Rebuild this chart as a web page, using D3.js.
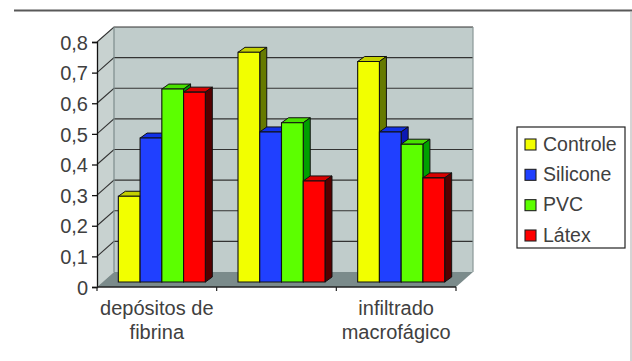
<!DOCTYPE html>
<html>
<head>
<meta charset="utf-8">
<script src="https://cdn.jsdelivr.net/npm/d3@7/dist/d3.min.js"></script>
<style>
html,body{margin:0;padding:0;background:#fff}
svg{display:block}
text{font-family:"Liberation Sans",Arial,sans-serif;fill:#404040}
</style>
</head>
<body>
<svg id="chart" width="632" height="361"></svg>
<script>
const categories = [["depósitos de", "fibrina"], [], ["infiltrado", "macrofágico"]];
const categoryKeys = ["a", "b", "c"];
const seriesNames = ["Controle", "Silicone", "PVC", "Látex"];
const controle = [0.28, 0.75, 0.72];
const silicone = [0.47, 0.49, 0.49];
const pvc = [0.63, 0.52, 0.45];
const latex = [0.62, 0.33, 0.34];
const seriesValues = [controle, silicone, pvc, latex];
const yTicks = [0, 0.1, 0.2, 0.3, 0.4, 0.5, 0.6, 0.7, 0.8];
const frontColors = ["#f2ff00", "#2040ff", "#5cff00", "#ff0000"];
const topColors = ["#c4d000", "#1030e8", "#48e000", "#d80000"];
const sideColors = ["#667a00", "#0c18b4", "#00a000", "#560000"];

const svg = d3.select("#chart");
const left = 97, right = 456, base = 287, top8 = 42;
const wallDx = 17, wallDy = -15;     // depth of the chart box
const barLift = {x: 5, y: -5};       // bars stand slightly behind the front edge
const barDepth = {x: 7, y: -5};

const y = d3.scaleLinear().domain([0, 0.8]).range([base, top8]);
const x0 = d3.scaleBand().domain(categoryKeys).range([left, right])
  .paddingInner(0.273).paddingOuter(0.1365);
const x1 = d3.scaleBand().domain(seriesNames).range([0, x0.bandwidth()]);

const poly = (pts, fill, stroke, sw) => svg.append("polygon")
  .attr("points", pts.map(p => p.join(",")).join(" "))
  .attr("fill", fill).attr("stroke", stroke || "none").attr("stroke-width", sw || 0);

// frame rules along the top and right of the figure
svg.append("line").attr("x1", 14).attr("x2", 632).attr("y1", 10.5).attr("y2", 10.5)
  .attr("stroke", "#595959").attr("stroke-width", 2);
svg.append("line").attr("x1", 631).attr("x2", 631).attr("y1", 11).attr("y2", 361)
  .attr("stroke", "#aaa").attr("stroke-width", 1);

// side wall, back wall and floor of the 3D box
poly([[left, base], [left + wallDx, base + wallDy], [left + wallDx, y(0.8) + wallDy], [left, y(0.8)]], "#c8d2d0");
poly([[left + wallDx, base + wallDy], [right + wallDx, base + wallDy], [right + wallDx, y(0.8) + wallDy], [left + wallDx, y(0.8) + wallDy]], "#c0cccb");
poly([[left, base], [right, base], [right + wallDx, base + wallDy], [left + wallDx, base + wallDy]], "#7b8b8b");

// gridlines wrapping the side and back walls
yTicks.forEach(t => {
  const gy = y(t);
  if (t > 0) {
    svg.append("polyline")
      .attr("points", `${left},${gy} ${left + wallDx},${gy + wallDy} ${right + wallDx},${gy + wallDy}`)
      .attr("fill", "none").attr("stroke", "#333").attr("stroke-width", 1.1);
  }
});
svg.append("line").attr("x1", left + wallDx).attr("x2", left + wallDx)
  .attr("y1", y(0.8) + wallDy).attr("y2", base + wallDy)
  .attr("stroke", "#7c8c8c").attr("stroke-width", 1.2);
svg.append("line").attr("x1", right + wallDx).attr("x2", right + wallDx)
  .attr("y1", y(0.8) + wallDy).attr("y2", base + wallDy)
  .attr("stroke", "#8a9898").attr("stroke-width", 1.2);

// bars: top and side faces first, then the front, series by series
categoryKeys.forEach((key, c) => {
  seriesNames.forEach((name, s) => {
    const v = seriesValues[s][c];
    const xa = x0(key) + x1(name) + barLift.x;
    const xb = xa + x1.bandwidth();
    const yb = base + barLift.y;
    const yt = y(v) + barLift.y;
    const dx = barDepth.x, dy = barDepth.y;
    poly([[xa, yt], [xb, yt], [xb + dx, yt + dy], [xa + dx, yt + dy]], topColors[s], "#111", 1);
    poly([[xb, yb], [xb + dx, yb + dy], [xb + dx, yt + dy], [xb, yt]], sideColors[s], "#111", 1);
    poly([[xa, yb], [xb, yb], [xb, yt], [xa, yt]], frontColors[s], "#111", 1.1);
  });
});

// value axis
const yAxis = d3.axisLeft(y).tickValues(yTicks).tickSize(5).tickPadding(4)
  .tickFormat(d => String(d).replace(".", ","));
const gy = svg.append("g").attr("transform", `translate(${left},0)`).call(yAxis);
gy.selectAll("text").attr("font-size", 20).attr("dy", "0.36em").attr("fill", "#404040");
gy.selectAll("line,path").attr("stroke", "#111").attr("stroke-width", 1.3);

// category axis: ticks sit between the groups
const tickXs = d3.range(categoryKeys.length + 1).map(i => left + i * x0.step());
svg.append("line").attr("x1", left).attr("x2", right).attr("y1", base).attr("y2", base)
  .attr("stroke", "#222").attr("stroke-width", 1.4);
svg.selectAll(".xtick").data(tickXs).join("line").attr("class", "xtick")
  .attr("x1", d => d).attr("x2", d => d).attr("y1", base).attr("y2", base + 4)
  .attr("stroke", "#222").attr("stroke-width", 1.2);

categories.forEach((lines, i) => {
  const cx = x0(categoryKeys[i]) + x0.bandwidth() / 2;
  lines.forEach((line, j) => {
    svg.append("text").attr("x", cx).attr("y", 315 + j * 24)
      .attr("text-anchor", "middle").attr("font-size", 20).text(line);
  });
});

// legend
const legend = svg.append("g");
legend.append("rect").attr("x", 517).attr("y", 127).attr("width", 108).attr("height", 121)
  .attr("fill", "#fff").attr("stroke", "#222").attr("stroke-width", 1.2);
const legendY = d3.scalePoint().domain(seriesNames).range([144.5, 235.5]);
seriesNames.forEach((name, s) => {
  legend.append("rect").attr("x", 525).attr("y", legendY(name) - 5.5).attr("width", 11).attr("height", 11)
    .attr("fill", frontColors[s]).attr("stroke", "#222").attr("stroke-width", 1.1);
  legend.append("text").attr("x", 543).attr("y", legendY(name) + 6)
    .attr("font-size", 19.5).text(name);
});
</script>
</body>
</html>
